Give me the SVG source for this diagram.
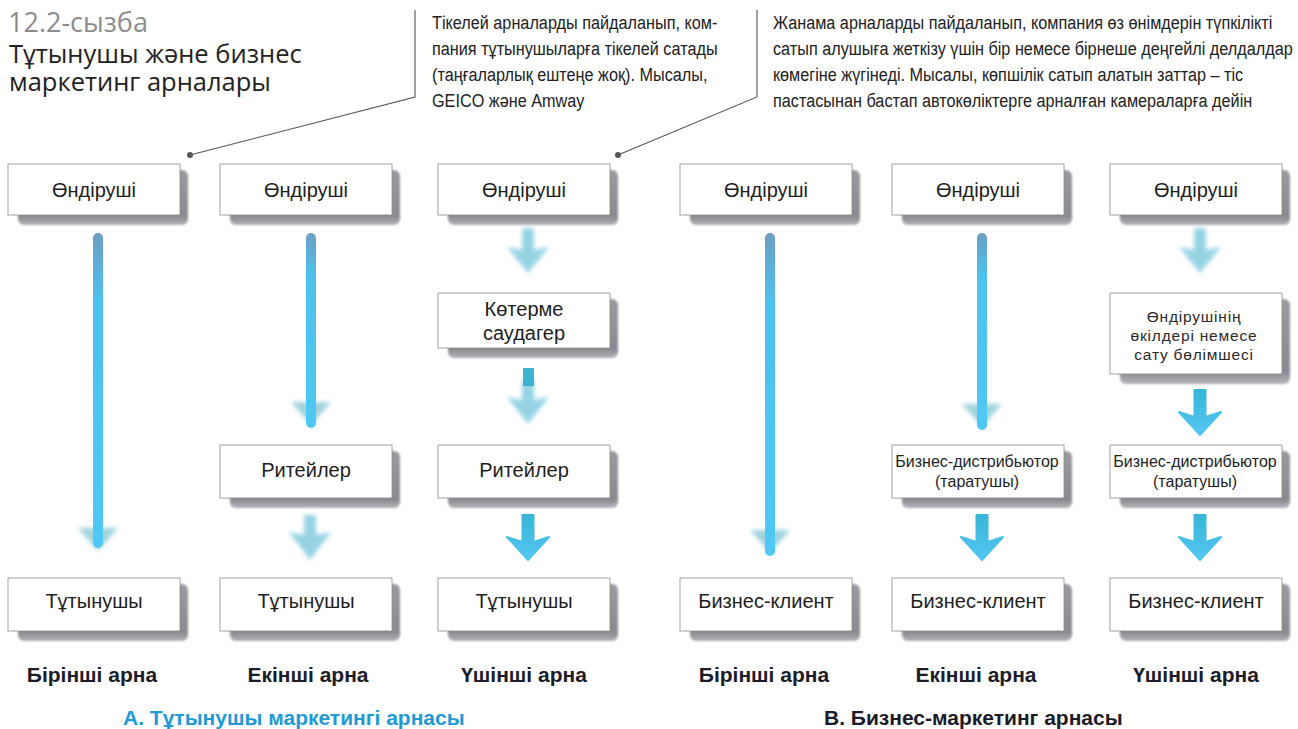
<svg xmlns="http://www.w3.org/2000/svg" width="1298" height="729" viewBox="0 0 1298 729">
  <defs>
    <linearGradient id="shadowGrad" x1="0" y1="0" x2="0" y2="1">
      <stop offset="0" stop-color="#9a9aa0"/>
      <stop offset="0.85" stop-color="#8a8a90"/>
      <stop offset="1" stop-color="#b4b4ba"/>
    </linearGradient>
    <linearGradient id="lineGrad" x1="0" y1="0" x2="0" y2="1">
      <stop offset="0" stop-color="#6c9ec2"/>
      <stop offset="0.22" stop-color="#4cc2ee"/>
      <stop offset="1" stop-color="#4fc8f5"/>
    </linearGradient>
    <linearGradient id="arrowGrad" x1="0" y1="0" x2="0" y2="1">
      <stop offset="0" stop-color="#36b6d6"/>
      <stop offset="1" stop-color="#55c6f4"/>
    </linearGradient>
    <filter id="soft" x="-20%" y="-20%" width="140%" height="160%">
      <feGaussianBlur stdDeviation="0.9"/>
    </filter>
    <filter id="haze" x="-50%" y="-50%" width="200%" height="200%">
      <feGaussianBlur stdDeviation="2.2"/>
    </filter>
    <style>
      .title1 { font-family: "Open Sans", "Noto Sans", sans-serif; font-size: 27px; fill: #8c8c8c; }
      .title2 { font-family: "Open Sans", "Noto Sans", sans-serif; font-size: 25.5px; fill: #222; }
      .note { font-family: "Liberation Sans", Arial, sans-serif; font-size: 19px; fill: #222; }
      .lead { stroke: #555; stroke-width: 1.1; fill: none; }
      .dot { fill: #555; }
      .shadow { fill: url(#shadowGrad); filter: url(#soft); }
      .box { fill: #fff; stroke: #8a8a8a; stroke-width: 0.8; }
      .lbl { font-family: "Liberation Sans", Arial, sans-serif; font-size: 20px; fill: #1e1e1e; text-anchor: middle; }
      .lbl-s { font-family: "Liberation Sans", Arial, sans-serif; font-size: 16px; fill: #1e1e1e; text-anchor: middle; }
      .lbl-xs { font-family: "Liberation Sans", Arial, sans-serif; font-size: 15.5px; letter-spacing: 0.8px; fill: #2a2a2a; text-anchor: middle; }
      .chan { font-family: "Liberation Sans", Arial, sans-serif; font-weight: bold; font-size: 21px; fill: #1c1c28; text-anchor: middle; }
      .secA { font-family: "Liberation Sans", Arial, sans-serif; font-weight: bold; font-size: 21px; fill: #1e9ad6; }
      .secB { font-family: "Liberation Sans", Arial, sans-serif; font-weight: bold; font-size: 21px; fill: #1c1c28; }
      .line { fill: url(#lineGrad); }
      .arrow { fill: url(#arrowGrad); stroke: url(#arrowGrad); stroke-width: 2; stroke-linejoin: round; }
      .faded { fill: #3fb0cf; opacity: 0.55; filter: url(#haze); }
      .fadedhead { fill: #2f9fb4; opacity: 0.45; filter: url(#haze); }
    </style>
  </defs>

  <rect width="1298" height="729" fill="#fff"/>

  <!-- heading -->
  <g id="heading">
    <text class="title1" x="8" y="32">12.2-сызба</text>
    <text class="title2" x="9" y="63">Тұтынушы және бизнес</text>
    <text class="title2" x="9" y="91">маркетинг арналары</text>
  </g>

  <!-- annotations (narrow type: regular face squeezed horizontally) -->
  <g id="note-direct">
    <path class="lead" d="M415,10 L415,97 L190,155"/>
    <circle class="dot" cx="190" cy="155" r="3"/>
    <g transform="translate(432 0) scale(0.855 1)">
      <text class="note" x="0" y="29">Тікелей арналарды пайдаланып, ком-</text>
      <text class="note" x="0" y="55">пания тұтынушыларға тікелей сатады</text>
      <text class="note" x="0" y="81">(таңғаларлық ештеңе жоқ). Мысалы,</text>
      <text class="note" x="0" y="107">GEICO және Amway</text>
    </g>
  </g>
  <g id="note-indirect">
    <path class="lead" d="M757,10 L757,97 L618,155"/>
    <circle class="dot" cx="618" cy="155" r="3"/>
    <g transform="translate(773 0) scale(0.855 1)">
      <text class="note" x="0" y="29">Жанама арналарды пайдаланып, компания өз өнімдерін түпкілікті</text>
      <text class="note" x="0" y="55">сатып алушыға жеткізу үшін бір немесе бірнеше деңгейлі делдалдар</text>
      <text class="note" x="0" y="81">көмегіне жүгінеді. Мысалы, көпшілік сатып алатын заттар – тіс</text>
      <text class="note" x="0" y="107">пастасынан бастап автокөліктерге арналған камераларға дейін</text>
    </g>
  </g>

  <!-- connectors -->
  <g id="connectors">
    <!-- column 1 -->
    <path class="fadedhead" d="M78,528 L118,528 L98,551 Z"/>
    <rect class="line" x="93" y="233" width="10" height="315" rx="5"/>
    <!-- column 2 -->
    <path class="fadedhead" d="M291,402 L331,402 L311,425 Z"/>
    <rect class="line" x="306" y="233" width="10" height="195" rx="5"/>
    <path class="faded" d="M304,515 L316,515 L316,535 L331,532 L310,560 L289,532 L304,535 Z"/>
    <!-- column 3 -->
    <path class="faded" d="M522,228 L534,228 L534,250 L549,247 L528,273 L507,247 L522,250 Z"/>
    <rect x="523" y="368" width="11" height="18" fill="#3fb5d2"/>
    <path class="faded" d="M522,380 L534,380 L534,400 L549,397 L528,424 L507,397 L522,400 Z"/>
    <path class="arrow" d="M522.5,515 L533.5,515 L533.5,542 L549,537 L528,560 L507,537 L522.5,542 Z"/>
    <!-- column 4 -->
    <path class="fadedhead" d="M750,530 L790,530 L770,553 Z"/>
    <rect class="line" x="765" y="233" width="10" height="323" rx="5"/>
    <!-- column 5 -->
    <path class="fadedhead" d="M962,404 L1002,404 L982,427 Z"/>
    <rect class="line" x="977" y="233" width="10" height="197" rx="5"/>
    <path class="arrow" d="M976.5,515 L987.5,515 L987.5,542 L1003,537 L982,560 L961,537 L976.5,542 Z"/>
    <!-- column 6 -->
    <path class="faded" d="M1194,228 L1206,228 L1206,250 L1221,247 L1200,273 L1179,247 L1194,250 Z"/>
    <path class="arrow" d="M1194.5,390 L1205.5,390 L1205.5,417 L1221,412 L1200,435 L1179,412 L1194.5,417 Z"/>
    <path class="arrow" d="M1194.5,515 L1205.5,515 L1205.5,542 L1221,537 L1200,560 L1179,537 L1194.5,542 Z"/>
  </g>

  <!-- consumer channels -->
  <g id="c1-producer">
    <rect class="shadow" x="18" y="170" width="170" height="55" rx="6"/>
    <rect class="box" x="8" y="164" width="172" height="51"/>
    <text class="lbl" x="94" y="197">Өндіруші</text>
  </g>
  <g id="c1-consumer">
    <rect class="shadow" x="18" y="584" width="170" height="57" rx="6"/>
    <rect class="box" x="8" y="578" width="172" height="53"/>
    <text class="lbl" x="94" y="608">Тұтынушы</text>
  </g>

  <g id="c2-producer">
    <rect class="shadow" x="230" y="170" width="170" height="55" rx="6"/>
    <rect class="box" x="220" y="164" width="172" height="51"/>
    <text class="lbl" x="306" y="197">Өндіруші</text>
  </g>
  <g id="c2-retailer">
    <rect class="shadow" x="230" y="451" width="170" height="57" rx="6"/>
    <rect class="box" x="220" y="445" width="172" height="53"/>
    <text class="lbl" x="306" y="477">Ритейлер</text>
  </g>
  <g id="c2-consumer">
    <rect class="shadow" x="230" y="584" width="170" height="57" rx="6"/>
    <rect class="box" x="220" y="578" width="172" height="53"/>
    <text class="lbl" x="306" y="608">Тұтынушы</text>
  </g>

  <g id="c3-producer">
    <rect class="shadow" x="448" y="170" width="170" height="55" rx="6"/>
    <rect class="box" x="438" y="164" width="172" height="51"/>
    <text class="lbl" x="524" y="197">Өндіруші</text>
  </g>
  <g id="c3-wholesaler">
    <rect class="shadow" x="448" y="299" width="170" height="59" rx="6"/>
    <rect class="box" x="438" y="293" width="172" height="55"/>
    <text class="lbl" x="524" y="316">Көтерме</text>
    <text class="lbl" x="524" y="340">саудагер</text>
  </g>
  <g id="c3-retailer">
    <rect class="shadow" x="448" y="451" width="170" height="57" rx="6"/>
    <rect class="box" x="438" y="445" width="172" height="53"/>
    <text class="lbl" x="524" y="477">Ритейлер</text>
  </g>
  <g id="c3-consumer">
    <rect class="shadow" x="448" y="584" width="170" height="57" rx="6"/>
    <rect class="box" x="438" y="578" width="172" height="53"/>
    <text class="lbl" x="524" y="608">Тұтынушы</text>
  </g>

  <!-- business channels -->
  <g id="b1-producer">
    <rect class="shadow" x="690" y="170" width="170" height="55" rx="6"/>
    <rect class="box" x="680" y="164" width="172" height="51"/>
    <text class="lbl" x="766" y="197">Өндіруші</text>
  </g>
  <g id="b1-client">
    <rect class="shadow" x="690" y="584" width="170" height="57" rx="6"/>
    <rect class="box" x="680" y="578" width="172" height="53"/>
    <text class="lbl" x="766" y="608">Бизнес-клиент</text>
  </g>

  <g id="b2-producer">
    <rect class="shadow" x="902" y="170" width="170" height="55" rx="6"/>
    <rect class="box" x="892" y="164" width="172" height="51"/>
    <text class="lbl" x="978" y="197">Өндіруші</text>
  </g>
  <g id="b2-distributor">
    <rect class="shadow" x="902" y="451" width="170" height="57" rx="6"/>
    <rect class="box" x="892" y="445" width="172" height="53"/>
    <text class="lbl-s" x="977" y="467">Бизнес-дистрибьютор</text>
    <text class="lbl-s" x="977" y="487">(таратушы)</text>
  </g>
  <g id="b2-client">
    <rect class="shadow" x="902" y="584" width="170" height="57" rx="6"/>
    <rect class="box" x="892" y="578" width="172" height="53"/>
    <text class="lbl" x="978" y="608">Бизнес-клиент</text>
  </g>

  <g id="b3-producer">
    <rect class="shadow" x="1120" y="170" width="170" height="55" rx="6"/>
    <rect class="box" x="1110" y="164" width="172" height="51"/>
    <text class="lbl" x="1196" y="197">Өндіруші</text>
  </g>
  <g id="b3-agents">
    <rect class="shadow" x="1120" y="299" width="170" height="85" rx="6"/>
    <rect class="box" x="1110" y="293" width="172" height="81"/>
    <text class="lbl-xs" x="1194" y="322">Өндірушінің</text>
    <text class="lbl-xs" x="1194" y="341">өкілдері немесе</text>
    <text class="lbl-xs" x="1194" y="360">сату бөлімшесі</text>
  </g>
  <g id="b3-distributor">
    <rect class="shadow" x="1120" y="451" width="170" height="57" rx="6"/>
    <rect class="box" x="1110" y="445" width="172" height="53"/>
    <text class="lbl-s" x="1195" y="467">Бизнес-дистрибьютор</text>
    <text class="lbl-s" x="1195" y="487">(таратушы)</text>
  </g>
  <g id="b3-client">
    <rect class="shadow" x="1120" y="584" width="170" height="57" rx="6"/>
    <rect class="box" x="1110" y="578" width="172" height="53"/>
    <text class="lbl" x="1196" y="608">Бизнес-клиент</text>
  </g>

  <!-- channel captions -->
  <g id="captions">
    <text class="chan" x="92" y="682">Бірінші арна</text>
    <text class="chan" x="308" y="682">Екінші арна</text>
    <text class="chan" x="524" y="682">Үшінші арна</text>
    <text class="chan" x="764" y="682">Бірінші арна</text>
    <text class="chan" x="976" y="682">Екінші арна</text>
    <text class="chan" x="1196" y="682">Үшінші арна</text>
    <text class="secA" x="123" y="725">А. Тұтынушы маркетингі арнасы</text>
    <text class="secB" x="824" y="725">В. Бизнес-маркетинг арнасы</text>
  </g>
</svg>
